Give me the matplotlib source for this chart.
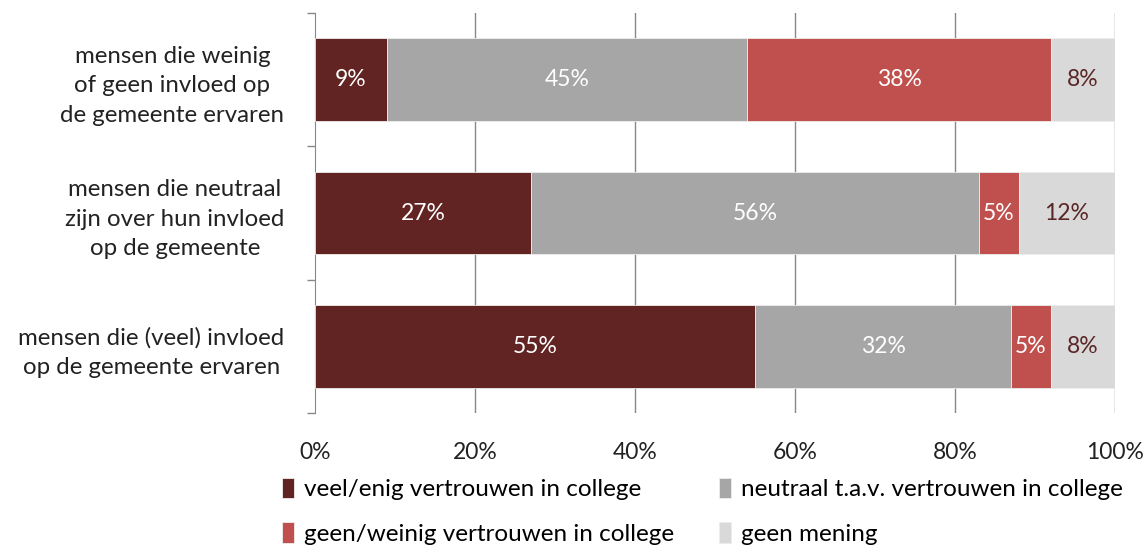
import matplotlib.pyplot as plt
import numpy as np

plt.rcParams['font.family'] = ['Lato', 'DejaVu Sans']

# groups top to bottom
groups = ['mensen die weinig\nof geen invloed op\nde gemeente ervaren',
          'mensen die neutraal\nzijn over hun invloed\nop de gemeente',
          'mensen die (veel) invloed\nop de gemeente ervaren']
series = ['veel/enig vertrouwen in college',
          'neutraal t.a.v. vertrouwen in college',
          'geen/weinig vertrouwen in college',
          'geen mening']
veel = [9, 27, 55]
neutraal = [45, 56, 32]
geen = [38, 5, 5]
mening = [8, 12, 8]
xticks = [0, 20, 40, 60, 80, 100]

colors = ['#622323', '#A6A6A6', '#C0504D', '#D9D9D9']
label_colors = ['white', 'white', 'white', '#5A2626']

fig = plt.figure(figsize=(11.46, 5.46), dpi=100)
ax = fig.add_axes([315 / 1146, 133 / 546, 800 / 1146, 400 / 546])

ypos = np.arange(len(groups))[::-1]
left = np.zeros(len(groups))
for vals, name, col, tcol in zip([veel, neutraal, geen, mening], series, colors, label_colors):
    vals = np.array(vals, dtype=float)
    ax.barh(ypos, vals, left=left, height=0.62, color=col, label=name, zorder=3,
            edgecolor='#EDEDED', linewidth=0.6)
    for y, l, v in zip(ypos, left, vals):
        ax.text(l + v / 2, y, f'{int(v)}%', ha='center', va='center',
                color=tcol, fontsize=16.5, zorder=4)
    left += vals

ax.set_xlim(0, 100)
ax.set_ylim(-0.5, 2.5)
ax.set_xticks(xticks)
ax.set_xticklabels([f'{t}%' for t in xticks], fontsize=16.5, color='#222222')
ax.tick_params(axis='x', length=0, pad=21)
ax.set_yticks(ypos)
ax.set_yticklabels(groups, fontsize=17.3, color='#222222', ha='right',
                   multialignment='center', linespacing=1.5)
ax.tick_params(axis='y', which='major', length=0, pad=22)
ax.set_yticks([-0.5, 0.5, 1.5, 2.5], minor=True)
ax.tick_params(axis='y', which='minor', length=6, color='#888888', width=1)

for x in xticks[1:]:
    ax.axvline(x, color='#888888', lw=1, zorder=1)
for s in ['top', 'right', 'bottom']:
    ax.spines[s].set_visible(False)
ax.spines['left'].set_color('#888888')

# legend fills row by row in the reference
handles, labels = ax.get_legend_handles_labels()
order = [0, 2, 1, 3]
fig.legend([handles[i] for i in order], [labels[i] for i in order], ncol=2,
           loc='upper left', bbox_to_anchor=(282 / 1146, 1 - 478 / 546),
           frameon=False, fontsize=17.5, handlelength=0.5, handleheight=0.9,
           handletextpad=0.4, columnspacing=1.85, labelspacing=0.9,
           borderpad=0, borderaxespad=0)

fig.savefig('out.png', dpi=100)
